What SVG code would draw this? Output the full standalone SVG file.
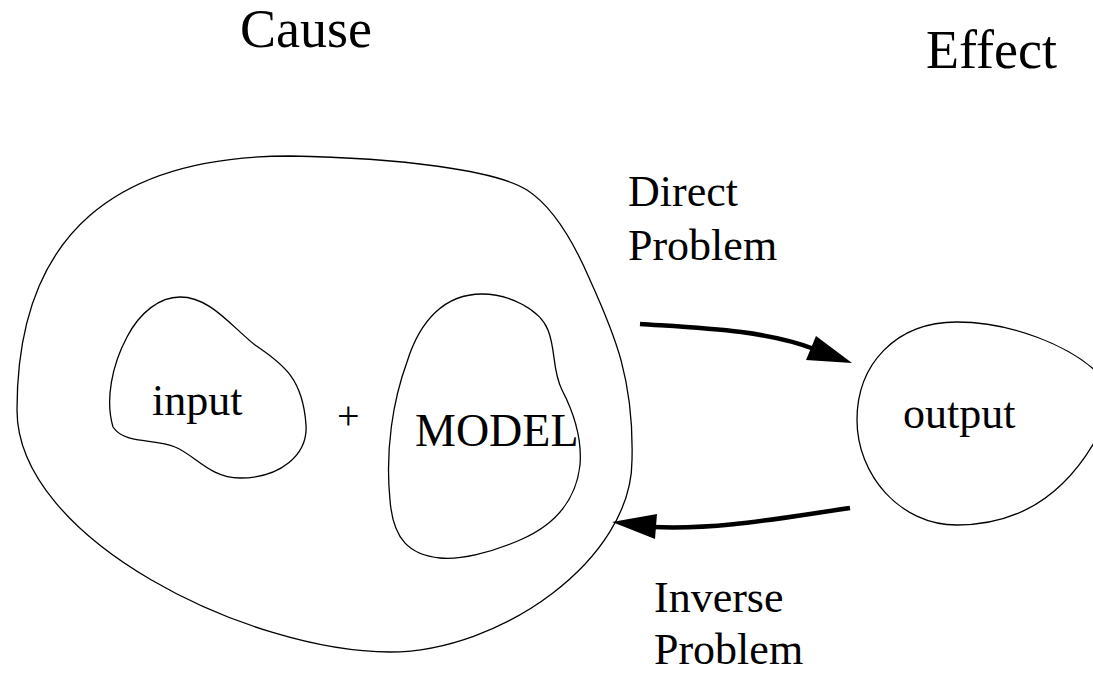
<svg xmlns="http://www.w3.org/2000/svg" width="1093" height="673" viewBox="0 0 1093 673">
<style>
.t{font-family:"Liberation Serif","Times New Roman",serif;fill:#000}
.l{font-size:44px}
.h{font-size:54px}
.blob{fill:none;stroke:#000;stroke-width:1.3}
.arr{fill:none;stroke:#000;stroke-width:4.5}
</style>
<rect width="1093" height="673" fill="#fff"/>
<text class="t h" x="240" y="47">Cause</text>
<text class="t h" x="926" y="68">Effect</text>
<g id="cause">
<path class="blob" d="M290,156 C400,158 495,170 527,190 C555,208 575,245 590,280 C615,335 634,380 632,460 C632,560 500,652 390,652 C250,652 17,540 17,410 C17,230 120,156 290,156 Z"/>
</g>
<g id="input">
<path class="blob" d="M180,297 C210,297 230,325 255,345 C285,365 303,380 306,425 C308,455 280,478 240,478 C210,478 195,455 175,447 C155,438 125,445 113,427 C105,400 112,365 127,337 C140,312 160,297 180,297 Z"/>
<text class="t l" x="152" y="415">input</text>
</g>
<g id="plus">
<text class="t" style="font-size:40px" x="337" y="429">+</text>
</g>
<g id="model">
<path class="blob" d="M482,294 C510,294 540,310 548,330 C556,350 552,370 562,390 C575,415 582,440 580,465 C576,500 555,525 520,540 C490,553 460,560 440,558 C410,555 393,540 390,500 C385,450 393,400 407,362 C420,320 445,294 482,294 Z"/>
<text class="t" style="font-size:46px" x="415" y="446">MODEL</text>
</g>
<g id="output">
<path class="blob" d="M957,322 C1010,322 1070,345 1100,375 L1100,432 C1080,470 1040,525 957,525 C900,525 857,475 857,420 C857,365 895,322 957,322 Z"/>
<text class="t l" x="903" y="428">output</text>
</g>
<g id="labels">
<text class="t l" x="628" y="206">Direct</text>
<text class="t l" x="628" y="260">Problem</text>
<text class="t l" x="654" y="612">Inverse</text>
<text class="t l" x="654" y="664">Problem</text>
</g>
<g id="connectors">
<path class="arr" d="M640,324 C700,328 765,330 814,349"/>
<polygon points="852,363 816,336 806,360" fill="#000"/>
<path class="arr" d="M850,508 C780,518 720,530 652,527"/>
<polygon points="612,522 657,514 655,539" fill="#000"/>
</g>
</svg>
